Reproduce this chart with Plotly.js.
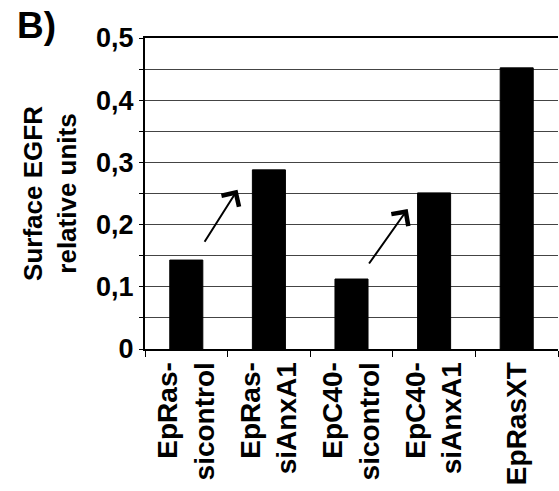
<!DOCTYPE html>
<html>
<head>
<meta charset="utf-8">
<script src="https://cdn.plot.ly/plotly-3.0.1.min.js"></script>
<style>html,body{margin:0;padding:0;background:#fff;}#chart{width:559px;height:491px;}</style>
</head>
<body>
<div id="chart"></div>
<script>
const categories = ['EpRas-<br>sicontrol', 'EpRas-<br>siAnxA1', 'EpC40-<br>sicontrol', 'EpC40-<br>siAnxA1', 'EpRasXT'];
const values = [0.143, 0.288, 0.1125, 0.251, 0.452];
const yTickVals = [0, 0.05, 0.1, 0.15, 0.2, 0.25, 0.3, 0.35, 0.4, 0.45, 0.5];
const yTickText = ['0', '', '0,1', '', '0,2', '', '0,3', '', '0,4', '', '0,5'];
// arrows: [tail x, tail y, tip x, tip y]
const arrowTails = [[0.21, 0.170], [2.2, 0.135]];
const arrowTips = [[0.62, 0.256], [2.68, 0.225]];

const FONT = 'Arial, "Liberation Sans", sans-serif';

const trace = {
  type: 'bar',
  x: categories,
  y: values,
  marker: {color: '#000', line: {color: '#000', width: 1}},
  hoverinfo: 'skip'
};

const annotations = arrowTips.map((tip, i) => ({
  x: tip[0], y: tip[1], xref: 'x', yref: 'y',
  ax: arrowTails[i][0], ay: arrowTails[i][1], axref: 'x', ayref: 'y',
  showarrow: true, arrowhead: 4, arrowsize: 2, arrowwidth: 2, arrowcolor: '#000',
  standoff: 0, startstandoff: 0, text: ''
}));
annotations.push({
  text: '<b>B)</b>', xref: 'paper', yref: 'paper', x: -0.315, y: 1.04,
  xanchor: 'left', yanchor: 'middle', showarrow: false,
  font: {family: FONT, size: 37, color: '#000'}
});

const layout = {
  width: 559, height: 491,
  margin: {l: 145, r: 1, t: 38, b: 142, pad: 0},
  paper_bgcolor: '#fff', plot_bgcolor: '#fff',
  showlegend: false,
  bargap: 0.6,
  font: {family: FONT, color: '#000'},
  xaxis: {
    type: 'category',
    tickson: 'boundaries',
    ticks: 'outside', ticklen: 6, tickwidth: 1, tickcolor: '#000',
    showline: true, linecolor: '#000', linewidth: 2, mirror: true,
    showgrid: false, zeroline: false,
    tickangle: -90,
    tickfont: {family: FONT, size: 28, weight: 'bold', color: '#000'}
  },
  yaxis: {
    range: [0, 0.5],
    tickmode: 'array', tickvals: yTickVals, ticktext: yTickText,
    ticks: 'outside', ticklen: 4, tickwidth: 1, tickcolor: '#000',
    showline: true, linecolor: '#000', linewidth: 2,
    showgrid: true, gridcolor: '#444', gridwidth: 1,
    zeroline: false,
    tickfont: {family: FONT, size: 27, weight: 'bold', color: '#000'},
    title: {text: 'Surface EGFR<br>relative units', standoff: 12,
            font: {family: FONT, size: 26, weight: 'bold', color: '#000'}}
  },
  annotations: annotations
};

Plotly.newPlot('chart', [trace], layout, {displayModeBar: false, staticPlot: true});
</script>
</body>
</html>
